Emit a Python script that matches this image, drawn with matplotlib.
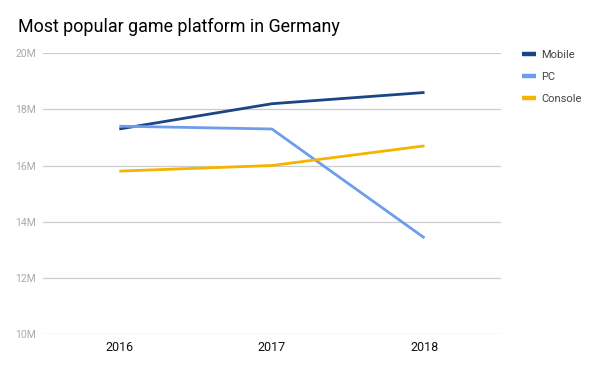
import matplotlib
matplotlib.use('Agg')
import matplotlib.pyplot as plt

years = ['2016', '2017', '2018']
mobile = [17.3, 18.2, 18.6]
pc = [17.4, 17.3, 13.42]
console = [15.8, 16.0, 16.7]
yticks = [10, 12, 14, 16, 18, 20]
ylabels = ['10M', '12M', '14M', '16M', '18M', '20M']

plt.rcParams['font.family'] = ['Roboto', 'DejaVu Sans']

fig = plt.figure(figsize=(6, 3.71), dpi=100)
ax = fig.add_axes([0.0717, 0.0997, 0.763, 0.757])

x = range(len(years))
ax.plot(x, mobile, color='#1c4587', lw=2.0, label='Mobile', solid_capstyle='butt')
ax.plot(x, pc, color='#6d9eeb', lw=2.0, label='PC', solid_capstyle='butt')
ax.plot(x, console, color='#f4b400', lw=2.0, label='Console', solid_capstyle='butt')

ax.set_xlim(-0.5, 2.5)
ax.set_ylim(10, 20)
ax.set_yticks(yticks)
ax.set_yticklabels(ylabels, color='#aaaaaa', fontsize=7.5)
ax.set_xticks(list(x))
ax.set_xticklabels(years, color='#111111', fontsize=9)
ax.grid(axis='y', color='#cccccc', lw=0.9)
ax.set_axisbelow(True)
ax.tick_params(length=0, axis='y', pad=5)
ax.tick_params(length=0, axis='x', pad=5)
for s in ax.spines.values():
    s.set_visible(False)

fig.text(0.03, 0.915, 'Most popular game platform in Germany', fontsize=12.9, color='#000000')

leg = fig.legend(loc='upper left', bbox_to_anchor=(0.853, 0.893), frameon=False,
                 fontsize=8, handlelength=1.3, handletextpad=0.45, labelspacing=1.1,
                 labelcolor='#444444')
for h in leg.legend_handles:
    h.set_linewidth(3.2)

fig.savefig('out.png', dpi=100)
